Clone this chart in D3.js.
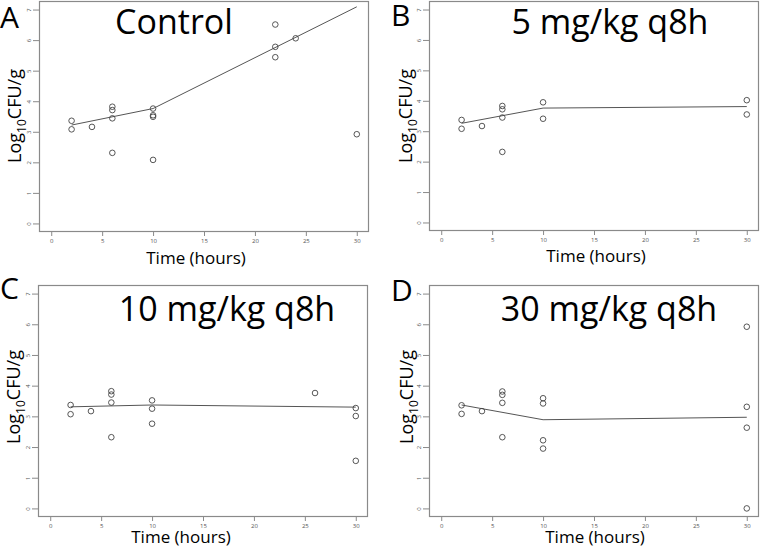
<!DOCTYPE html>
<html>
<head>
<meta charset="utf-8">
<script src="https://cdn.jsdelivr.net/npm/d3@7"></script>
<style>
  html, body { margin: 0; padding: 0; background: #fff; }
  svg { display: block; }
</style>
</head>
<body>
<svg id="chart" width="760" height="548"></svg>
<script>
// ---- data ----
const panelLetters = ["A", "B", "C", "D"];
const panelTitles = ["Control", "5 mg/kg q8h", "10 mg/kg q8h", "30 mg/kg q8h"];
const xTicks = [0, 5, 10, 15, 20, 25, 30];
const yTicks = [0, 1, 2, 3, 4, 5, 6, 7];

const timesA = [2, 2, 4, 6, 6, 6, 6, 10, 10, 10, 10, 22, 22, 22, 24, 30];
const logA   = [3.36, 3.08, 3.16, 3.82, 3.71, 3.44, 2.31, 3.76, 3.54, 3.49, 2.08, 6.51, 5.78, 5.44, 6.06, 2.92];
const timesB = [2, 2, 4, 6, 6, 6, 6, 10, 10, 30, 30];
const logB   = [3.37, 3.08, 3.17, 3.83, 3.72, 3.45, 2.32, 3.95, 3.41, 4.02, 3.55];
const timesC = [2, 2, 4, 6, 6, 6, 6, 10, 10, 10, 26, 30, 30, 30];
const logC   = [3.37, 3.07, 3.17, 3.82, 3.71, 3.45, 2.32, 3.52, 3.25, 2.76, 3.76, 3.27, 3.01, 1.55];
const timesD = [2, 2, 4, 6, 6, 6, 6, 10, 10, 10, 10, 30, 30, 30, 30];
const logD   = [3.36, 3.08, 3.17, 3.81, 3.70, 3.44, 2.32, 3.59, 3.42, 2.22, 1.95, 5.92, 3.31, 2.63, 0.00];

const fitTimes = [2, 10, 30];
const fitA = [3.22, 3.76, 7.09];
const fitB = [3.26, 3.76, 3.81];
const fitC = [3.31, 3.37, 3.30];
const fitD = [3.37, 2.89, 2.97];

// ---- layout ----
const panels = [
  { times: timesA, vals: logA, fit: fitA, box: [39, 1, 369, 232],
    letter: [0, 28], title: [174, 34], xlab: [196, 264], ylab: [21, 116] },
  { times: timesB, vals: logB, fit: fitB, box: [429, 1, 759, 231],
    letter: [391, 26], title: [610, 34], xlab: [596, 262], ylab: [412, 116] },
  { times: timesC, vals: logC, fit: fitC, box: [38, 285, 368, 517],
    letter: [0, 299], title: [227, 321], xlab: [181, 543], ylab: [20, 397] },
  { times: timesD, vals: logD, fit: fitD, box: [429, 285, 759, 517],
    letter: [391, 301], title: [609, 321], xlab: [595, 543], ylab: [413, 397] }
];

const svg = d3.select("#chart");
const FONT = "'Open Sans', 'Noto Sans', sans-serif";
const GREY = "#8a8a8a";

panels.forEach((p, i) => {
  const [x0, y0, x1, y1] = p.box;
  const w = x1 - x0, h = y1 - y0;
  const x = d3.scaleLinear().domain([-1.2, 31.2]).range([x0, x1]);
  const y = d3.scaleLinear().domain([-0.28, 7.28]).range([y1, y0]);
  const g = svg.append("g");

  // box
  g.append("rect").attr("x", x0 + 0.5).attr("y", y0 + 0.5)
    .attr("width", w - 1).attr("height", h - 1)
    .attr("fill", "none").attr("stroke", GREY).attr("stroke-width", 1.2);

  // x axis
  const xa = g.append("g").attr("transform", `translate(0,${y1})`)
    .call(d3.axisBottom(x).tickValues(xTicks).tickSize(4).tickPadding(3));
  xa.select(".domain").remove();
  xa.selectAll("line").attr("stroke", GREY);
  xa.selectAll("text").attr("font-size", 6).attr("font-family", FONT).attr("fill", "#555");

  // y axis
  const ya = g.append("g").attr("transform", `translate(${x0},0)`)
    .call(d3.axisLeft(y).tickValues(yTicks).tickSize(6).tickPadding(0));
  ya.select(".domain").remove();
  ya.selectAll("line").attr("stroke", GREY);
  ya.selectAll("text").attr("font-size", 6).attr("font-family", FONT).attr("fill", "#555")
    .attr("text-anchor", "middle")
    .attr("transform", "translate(-10,0) rotate(-90)")
    .attr("x", 0).attr("dy", "0.35em");

  // fit line
  const line = d3.line().x((d, k) => x(fitTimes[k])).y(d => y(d));
  g.append("path").datum(p.fit).attr("d", line)
    .attr("fill", "none").attr("stroke", "#555").attr("stroke-width", 1);

  // points
  g.selectAll("circle.pt").data(p.vals).enter().append("circle")
    .attr("class", "pt")
    .attr("cx", (d, k) => x(p.times[k])).attr("cy", d => y(d))
    .attr("r", 2.8).attr("fill", "none").attr("stroke", "#444").attr("stroke-width", 0.9);

  // panel letter
  svg.append("text").attr("x", p.letter[0]).attr("y", p.letter[1])
    .attr("font-family", FONT).attr("font-size", 30).attr("fill", "#000")
    .text(panelLetters[i]);

  // title
  svg.append("text").attr("x", p.title[0]).attr("y", p.title[1])
    .attr("text-anchor", "middle")
    .attr("font-family", FONT).attr("font-size", 34).attr("fill", "#000")
    .text(panelTitles[i]);

  // x label
  svg.append("text").attr("x", p.xlab[0]).attr("y", p.xlab[1])
    .attr("text-anchor", "middle")
    .attr("font-family", FONT).attr("font-size", 17).attr("fill", "#000")
    .text("Time (hours)");

  // y label
  const yl = svg.append("text")
    .attr("transform", `translate(${p.ylab[0]},${p.ylab[1]}) rotate(-90)`)
    .attr("text-anchor", "middle")
    .attr("font-family", FONT).attr("font-size", 18).attr("fill", "#000");
  yl.append("tspan").text("Log");
  yl.append("tspan").attr("font-size", 12).attr("dy", 5).text("10");
  yl.append("tspan").attr("dy", -5).text("CFU/g");
});
</script>
</body>
</html>
